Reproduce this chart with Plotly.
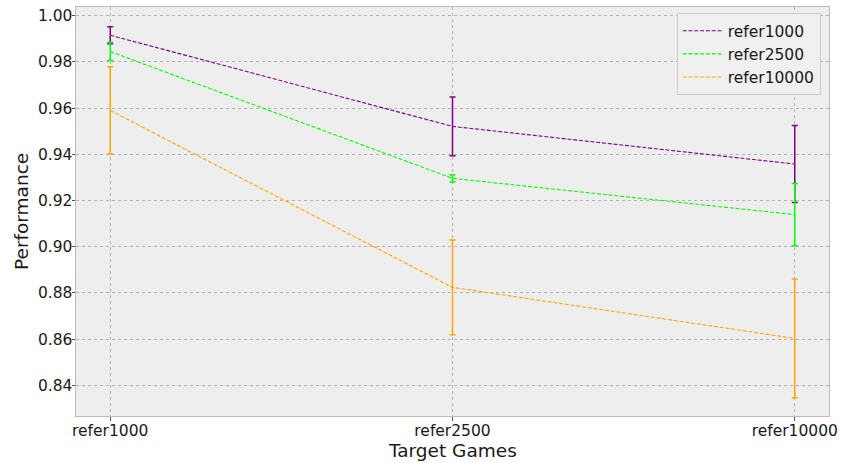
import plotly.graph_objects as go

categories = ["refer1000", "refer2500", "refer10000"]
series_names = ["refer1000", "refer2500", "refer10000"]
refer1000_vals = [0.9916, 0.9521, 0.9358]
refer1000_err = [0.0037, 0.0127, 0.0167]
refer2500_vals = [0.9845, 0.9296, 0.9139]
refer2500_err = [0.0039, 0.0016, 0.0135]
refer10000_vals = [0.9590, 0.8824, 0.8603]
refer10000_err = [0.0189, 0.0205, 0.0257]
colors = ["#800080", "#00ff00", "#ffa500"]

values = [refer1000_vals, refer2500_vals, refer10000_vals]
errors = [refer1000_err, refer2500_err, refer10000_err]

fig = go.Figure()
for name, v, e, c in zip(series_names, values, errors, colors):
    fig.add_trace(go.Scatter(
        x=list(range(len(categories))), y=v, name=name, mode="lines",
        line=dict(color=c, width=1.1, dash="4px,1.8px"),
        error_y=dict(type="data", array=e, visible=True, color=c, thickness=1.5, width=3),
    ))

font = "DejaVu Sans, Verdana, sans-serif"
fig.update_layout(
    width=843, height=463,
    margin=dict(l=76, r=14, t=7, b=47, autoexpand=False),
    paper_bgcolor="white", plot_bgcolor="#eeeeee",
    font=dict(family=font, size=15.5, color="#1a1a1a"),
    showlegend=True,
    legend=dict(x=0.989, y=0.985, xanchor="right", yanchor="top",
                bgcolor="#f0f0f0", bordercolor="#cccccc", borderwidth=1,
                font=dict(size=15.5), tracegroupgap=0, itemwidth=40),
    annotations=[
        dict(text="Target Games", xref="paper", yref="paper", x=0.5, y=0.0,
             yshift=-22, xanchor="center", yanchor="top", showarrow=False,
             font=dict(size=18.5)),
        dict(text="Performance", xref="paper", yref="paper", x=0, y=0.5,
             xshift=-67, xanchor="left", yanchor="middle", textangle=-90, showarrow=False,
             font=dict(size=18.5)),
    ],
)
fig.update_xaxes(
    range=[-0.1, 2.1], tickmode="array", tickvals=list(range(len(categories))), ticktext=categories,
    showgrid=True, gridcolor="#b2b2b2", griddash="dot", gridwidth=0.8,
    showline=True, linecolor="#bcbcbc", mirror=True, linewidth=1,
    ticks="outside", ticklen=3.5, tickcolor="#555555", zeroline=False, automargin=False,
    ticklabelstandoff=-3,
)
fig.update_yaxes(
    range=[0.8267, 1.0038], tickmode="array",
    tickvals=[0.84, 0.86, 0.88, 0.90, 0.92, 0.94, 0.96, 0.98, 1.00],
    tickformat=".2f",
    showgrid=True, gridcolor="#b2b2b2", griddash="dot", gridwidth=0.8,
    showline=True, linecolor="#bcbcbc", mirror=True, linewidth=1,
    ticks="outside", ticklen=3.5, tickcolor="#555555", zeroline=False, automargin=False,
    ticklabelstandoff=-4,
)
fig.write_html("out.html", post_script="document.body.style.margin='0';",
               config={"displayModeBar": False})
